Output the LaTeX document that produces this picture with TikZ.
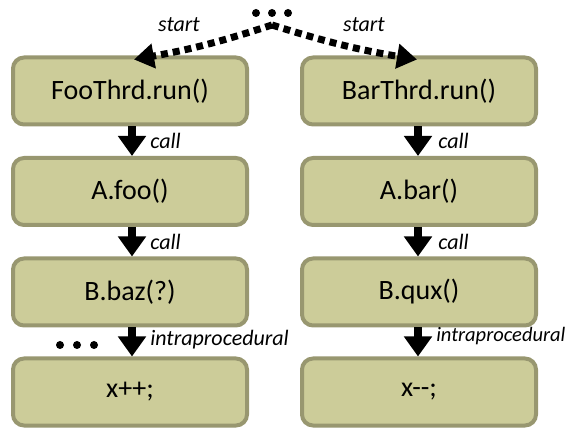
\documentclass[tikz,border=0pt]{standalone}
\usepackage{fontspec}
\setmainfont{Carlito}
\usetikzlibrary{arrows.meta,shadows}
\definecolor{boxfill}{RGB}{204,204,153}
\definecolor{boxline}{RGB}{152,151,112}
\tikzset{
  fbox/.style={draw=boxline, fill=boxfill, line width=4pt, rounded corners=11pt,
    minimum width=234pt, minimum height=67pt, font=\fontsize{28}{30}\selectfont,
    drop shadow={opacity=0.15, shadow xshift=1pt, shadow yshift=-1.5pt}},
  callarrow/.style={line width=8.5pt, -{Triangle[width=27pt,length=20pt]}},
  startarrow/.style={line width=7pt, dash pattern=on 7pt off 5pt,
    -{Triangle[width=24pt,length=20pt]}},
  lbl/.style={font=\itshape\fontsize{22}{24}\selectfont, inner sep=0pt},
  dot/.style={circle, fill=black, inner sep=0pt, minimum size=8pt}
}
\begin{document}
\begin{tikzpicture}[x=1pt,y=1pt]
\useasboundingbox (0,0) rectangle (571,429);
% boxes
\node[fbox] (foo) at (130,338) {FooThrd.run()};
\node[fbox] (afoo) at (130,237.5) {A.foo()};
\node[fbox] (baz) at (130,137) {B.baz(?)};
\node[fbox] (xpp) at (130,37) {x++;};
\node[fbox] (bar) at (419,338) {BarThrd.run()};
\node[fbox] (abar) at (419,237.5) {A.bar()};
\node[fbox] (qux) at (419,137) {B.qux()};
\node[fbox] (xmm) at (419,37) {x-{}-;};
% top dots
\node[dot] (t1) at (256,416) {};
\node[dot] (t2) at (272,416) {};
\node[dot] (t3) at (288,416) {};
\coordinate (peak) at (272,404);
% bottom-left dots
\node[dot] (b1) at (60,84) {};
\node[dot] (b2) at (77,84) {};
\node[dot] (b3) at (94,84) {};
% start arrows
\draw[startarrow] (peak) to[bend left=4] ([xshift=4pt,yshift=-4pt]foo.north);
\draw[startarrow] (peak) to[bend right=4] ([xshift=-2pt,yshift=-4pt]bar.north);
\node[lbl] (s1) at (179,404) {start};
\node[lbl] (s2) at (364,404) {start};
% call arrows
\draw[callarrow] ([xshift=2pt]foo.south) -- ([xshift=2pt]afoo.north)
  node[lbl, midway, anchor=west, xshift=14pt] (c1) {call};
\draw[callarrow] ([xshift=2pt]afoo.south) -- ([xshift=2pt]baz.north)
  node[lbl, midway, anchor=west, xshift=14pt] (c2) {call};
\draw[callarrow] ([xshift=2pt]baz.south) -- ([xshift=2pt]xpp.north)
  node[lbl, midway, anchor=west, xshift=14pt, yshift=2pt] (c3) {intraprocedural};
\draw[callarrow] ([xshift=-1pt]bar.south) -- ([xshift=-1pt]abar.north)
  node[lbl, midway, anchor=west, xshift=16pt] (c4) {call};
\draw[callarrow] ([xshift=-1pt]abar.south) -- ([xshift=-1pt]qux.north)
  node[lbl, midway, anchor=west, xshift=16pt] (c5) {call};
\draw[callarrow] ([xshift=-1pt]qux.south) -- ([xshift=-1pt]xmm.north)
  node[lbl, midway, anchor=west, xshift=14pt, yshift=6pt,
       font=\itshape\fontsize{20.5}{22}\selectfont] (c6) {intraprocedural};
\end{tikzpicture}
\end{document}
